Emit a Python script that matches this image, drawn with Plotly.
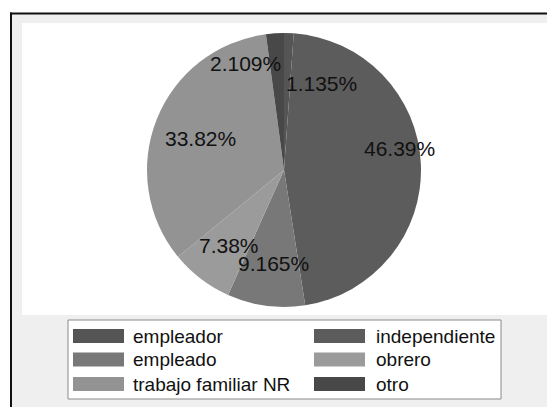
import math
import plotly.graph_objects as go

# ---- data ----
labels = ["empleador", "independiente", "empleado", "obrero", "trabajo familiar NR", "otro"]
values = [1.135, 46.39, 9.165, 7.38, 33.82, 2.109]
value_text = ["1.135%", "46.39%", "9.165%", "7.38%", "33.82%", "2.109%"]

# ---- style ----
colors = ["#555555", "#5c5c5c", "#787878", "#9b9b9b", "#939393", "#484848"]
label_radius = [0.69, 0.86, 0.686, 0.68, 0.656, 0.83]
label_angle_shift = [21.5, -7.9, -0.9, -1.0, -0.7, -16.0]

W, H = 547, 407
CX, CY, R = 284, 170, 137
FONT = "Liberation Sans, Arial, sans-serif"


def px(x):
    return x / W


def py(y):
    return 1 - y / H


fig = go.Figure()
fig.add_trace(go.Pie(
    labels=labels, values=values, sort=False, direction="clockwise", rotation=0,
    marker=dict(colors=colors, line=dict(width=0)),
    textinfo="none", hoverinfo="label+percent", showlegend=False,
    domain=dict(x=[px(CX - R), px(CX + R)], y=[py(CY + R), py(CY - R)]),
))

shapes = [
    # grey surround
    dict(type="rect", xref="paper", yref="paper", x0=px(11), x1=1, y0=0, y1=py(13.5),
         fillcolor="#efefef", line=dict(width=0), layer="below"),
    # black frame lines (top and left)
    dict(type="line", xref="paper", yref="paper", x0=px(10), x1=1, y0=py(13.5), y1=py(13.5),
         line=dict(color="#111111", width=2), layer="below"),
    dict(type="line", xref="paper", yref="paper", x0=px(11), x1=px(11), y0=0, y1=py(12.5),
         line=dict(color="#111111", width=2), layer="below"),
    # white plot region
    dict(type="rect", xref="paper", yref="paper", x0=px(22), x1=1, y0=py(315), y1=py(23),
         fillcolor="#ffffff", line=dict(width=0), layer="below"),
    # legend box
    dict(type="rect", xref="paper", yref="paper", x0=px(68), x1=px(501), y0=py(399), y1=py(320),
         fillcolor="#ffffff", line=dict(color="#8a8a8a", width=1), layer="below"),
]

annotations = []
total = sum(values)
cum = 0.0
for i, v in enumerate(values):
    mid = (cum + v / 2) / total * 360 + label_angle_shift[i]
    cum += v
    r = label_radius[i] * R
    x = CX + r * math.sin(math.radians(mid))
    y = CY - r * math.cos(math.radians(mid))
    annotations.append(dict(x=px(x), y=py(y), xref="paper", yref="paper", text=value_text[i],
                            showarrow=False, xanchor="center", yanchor="middle",
                            font=dict(family=FONT, size=21, color="#111111")))

# custom legend, two columns
col_swatch_x = [73, 314]
col_text_x = [131, 374]
row_y = [336, 359.5, 384]
for i, lab in enumerate(labels):
    c, rr = i % 2, i // 2
    sx, yy = col_swatch_x[c], row_y[rr]
    shapes.append(dict(type="rect", xref="paper", yref="paper", x0=px(sx), x1=px(sx + 51),
                       y0=py(yy + 7), y1=py(yy - 7), fillcolor=colors[i], line=dict(width=0)))
    annotations.append(dict(x=px(col_text_x[c]), y=py(yy), xref="paper", yref="paper", text=lab,
                            showarrow=False, xanchor="left", yanchor="middle",
                            font=dict(family=FONT, size=19, color="#111111")))

fig.update_layout(
    width=W, height=H, margin=dict(l=0, r=0, t=0, b=0),
    paper_bgcolor="#ffffff", plot_bgcolor="#ffffff",
    shapes=shapes, annotations=annotations, showlegend=False,
)
fig.write_html(
    "out.html",
    config={"displayModeBar": False},
    post_script="document.body.style.margin='0';document.body.style.overflow='hidden';",
)
